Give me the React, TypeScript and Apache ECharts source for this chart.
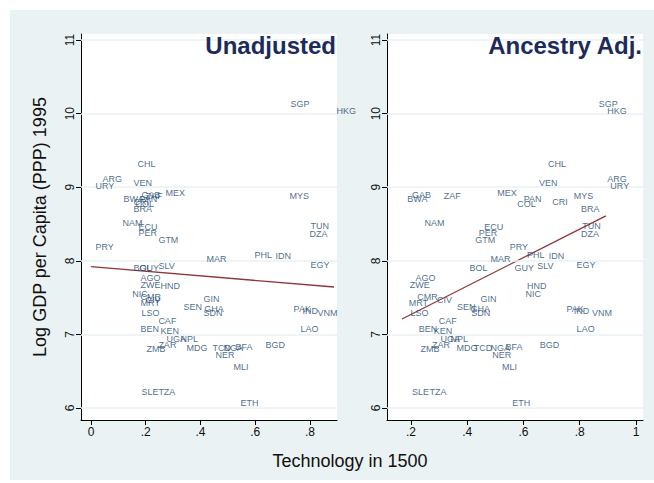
import React, { useEffect, useRef } from "react";
import * as echarts from "echarts";

const codes = ["SGP","HKG","CHL","ARG","URY","VEN","MEX","BWA","GAB","ZAF","PAN","COL","CRI","BRA","MYS","NAM","ECU","PER","GTM","PRY","TUN","DZA","MAR","PHL","IDN","EGY","SLV","BOL","GUY","AGO","ZWE","HND","NIC","CMR","CIV","MRT","LSO","GIN","SEN","GHA","SDN","PAK","IND","VNM","CAF","BEN","KEN","LAO","UGA","NPL","ZAR","ZMB","MDG","TCD","NGA","BFA","BGD","NER","MLI","SLE","TZA","ETH"];

const logGdp = [10.13,10.035,9.315,9.111,9.016,9.057,8.921,8.84,8.894,8.88,8.84,8.772,8.799,8.704,8.88,8.514,8.459,8.378,8.283,8.188,8.473,8.364,8.024,8.079,8.065,7.943,7.929,7.902,7.902,7.766,7.671,7.658,7.549,7.508,7.467,7.427,7.291,7.481,7.372,7.345,7.291,7.345,7.318,7.291,7.182,7.073,7.046,7.073,6.938,6.938,6.856,6.802,6.815,6.815,6.815,6.829,6.856,6.72,6.557,6.217,6.217,6.068];

const techUnadj = [0.720,0.888,0.161,0.033,0.007,0.146,0.263,0.110,0.175,0.190,0.168,0.153,0.146,0.146,0.716,0.106,0.164,0.164,0.237,0.007,0.793,0.789,0.413,0.588,0.665,0.793,0.237,0.146,0.168,0.172,0.172,0.245,0.142,0.172,0.190,0.172,0.175,0.402,0.329,0.405,0.402,0.731,0.763,0.818,0.237,0.172,0.245,0.756,0.267,0.318,0.237,0.194,0.340,0.435,0.475,0.519,0.628,0.446,0.511,0.175,0.237,0.537];

const techAnc = [0.859,0.889,0.678,0.889,0.900,0.646,0.498,0.178,0.195,0.308,0.592,0.569,0.693,0.796,0.770,0.239,0.452,0.432,0.420,0.542,0.800,0.796,0.474,0.604,0.681,0.780,0.640,0.399,0.559,0.207,0.187,0.604,0.598,0.213,0.284,0.183,0.189,0.438,0.355,0.403,0.405,0.744,0.770,0.835,0.290,0.219,0.272,0.780,0.296,0.332,0.266,0.225,0.353,0.414,0.474,0.527,0.649,0.480,0.515,0.195,0.257,0.551];

const fitUnadjX = [0.0, 0.888];
const fitUnadjY = [7.92, 7.644];
const fitAncX = [0.168, 0.893];
const fitAncY = [7.21, 8.61];

const xTicksLeft = [0, 0.2, 0.4, 0.6, 0.8];
const xTicksRight = [0.2, 0.4, 0.6, 0.8, 1];
const yTicks = [6, 7, 8, 9, 10, 11];

const panelTitles = ["Unadjusted", "Ancestry Adj."];

const FONT = "Arial, 'Liberation Sans', sans-serif";
const LABEL_COLOR = "#1a476f";
const LINE_COLOR = "#90353b";

const fmt = (v: number) => {
  if (Math.abs(v) < 1e-9) return "0";
  if (Math.abs(v - 1) < 1e-9) return "1";
  return String(Math.round(v * 10) / 10).replace(/^0\./, ".");
};

export default function App() {
  const ref = useRef<HTMLDivElement>(null);
  useEffect(() => {
    if (!ref.current) return;
    const chart = echarts.init(ref.current, null, { renderer: "svg" });
    const xAxisCommon = (i: number, min: number, max: number, ticks: number[]) => ({
      type: "value",
      gridIndex: i,
      min,
      max,
      axisLine: { show: true, onZero: false, lineStyle: { color: "#000", width: 1 } },
      axisTick: { show: true, length: 5, inside: false, customValues: ticks, lineStyle: { color: "#000" } },
      axisLabel: { show: true, customValues: ticks, formatter: fmt, color: "#111", fontSize: 12, fontFamily: FONT, margin: 6 },
      splitLine: { show: false },
    });
    const yAxisCommon = (i: number) => ({
      type: "value",
      gridIndex: i,
      min: 5.837,
      max: 11.082,
      axisLine: { show: true, onZero: false, lineStyle: { color: "#000", width: 1 } },
      axisTick: { show: true, length: 5, customValues: yTicks, lineStyle: { color: "#000" } },
      axisLabel: { show: true, customValues: yTicks, rotate: 90, color: "#111", fontSize: 12, fontFamily: FONT, margin: 5 },
      splitLine: { show: false },
    });
    const scatter = (i: number, xs: number[]) => ({
      type: "scatter",
      xAxisIndex: i,
      yAxisIndex: i,
      symbol: "circle",
      symbolSize: 1,
      itemStyle: { color: "rgba(0,0,0,0)" },
      z: 5,
      data: codes.map((c, k) => ({ name: c, value: [xs[k], logGdp[k]] })),
      label: {
        show: true,
        formatter: "{b}",
        position: "right",
        distance: 2,
        fontSize: 9,
        fontFamily: FONT,
        color: LABEL_COLOR,
      },
      markLine: {
        silent: true,
        symbol: "none",
        label: { show: false },
        lineStyle: { color: "#eaf2f3", width: 1.5, type: "solid" },
        data: yTicks.map((t) => ({ yAxis: t })),
      },
    });
    const fit = (i: number, xs: number[], ys: number[]) => ({
      type: "line",
      xAxisIndex: i,
      yAxisIndex: i,
      symbol: "none",
      z: 4,
      lineStyle: { color: LINE_COLOR, width: 1.3 },
      data: xs.map((x, k) => [x, ys[k]]),
    });
    chart.setOption({
      animation: false,
      backgroundColor: "transparent",
      grid: [
        { left: 81, top: 34, width: 256, height: 386, show: true, backgroundColor: "#ffffff", borderWidth: 0 },
        { left: 387, top: 34, width: 256, height: 386, show: true, backgroundColor: "#ffffff", borderWidth: 0 },
      ],
      xAxis: [
        xAxisCommon(0, -0.0365, 0.8986, xTicksLeft),
        xAxisCommon(1, 0.1147, 1.0249, xTicksRight),
      ],
      yAxis: [yAxisCommon(0), yAxisCommon(1)],
      series: [
        scatter(0, techUnadj),
        fit(0, fitUnadjX, fitUnadjY),
        scatter(1, techAnc),
        fit(1, fitAncX, fitAncY),
      ],
      graphic: [
        {
          type: "text",
          x: 336,
          y: 45,
          z: 10,
          style: { text: panelTitles[0], align: "right", verticalAlign: "middle", fontSize: 24, fontWeight: "bold", fontFamily: FONT, fill: "#1c2b5b" },
        },
        {
          type: "text",
          x: 642,
          y: 45,
          z: 10,
          style: { text: panelTitles[1], align: "right", verticalAlign: "middle", fontSize: 24, fontWeight: "bold", fontFamily: FONT, fill: "#1c2b5b" },
        },
        {
          type: "text",
          x: 350,
          y: 461,
          style: { text: "Technology in 1500", align: "center", verticalAlign: "middle", fontSize: 18, fontFamily: FONT, fill: "#111" },
        },
        {
          type: "text",
          x: 40,
          y: 227,
          rotation: Math.PI / 2,
          style: { text: "Log GDP per Capita (PPP) 1995", align: "center", verticalAlign: "middle", fontSize: 18, fontFamily: FONT, fill: "#111" },
        },
      ],
    });
    return () => chart.dispose();
  }, []);
  return (
    <div style={{ position: "absolute", left: 0, top: 0, width: 654, height: 483, background: "#ffffff" }}>
      <div style={{ position: "absolute", left: 10, top: 10, width: 644, height: 470, background: "#eaf2f3" }} />
      <div ref={ref} style={{ position: "absolute", left: 0, top: 0, width: 654, height: 483 }} />
    </div>
  );
}
